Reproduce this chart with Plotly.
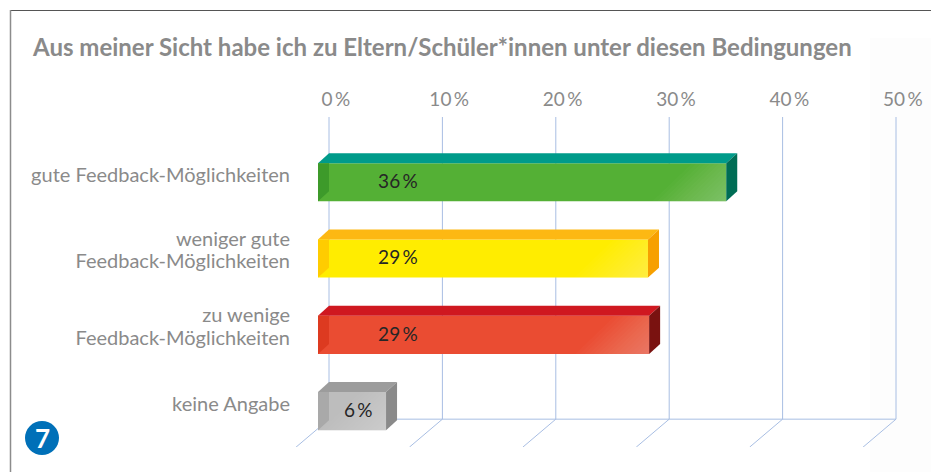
import plotly.graph_objects as go

categories = [["gute Feedback-Möglichkeiten"], ["weniger gute", "Feedback-Möglichkeiten"],
              ["zu wenige", "Feedback-Möglichkeiten"], ["keine Angabe"]]
values = [36, 29.1, 29.2, 6]
value_labels = ["36\u2009%", "29\u2009%", "29\u2009%", "6\u2009%"]
ticks = [0, 10, 20, 30, 40, 50]
title = "Aus meiner Sicht habe ich zu Eltern/Schüler*innen unter diesen Bedingungen"

front = ["#54b035", "#ffed00", "#ea4c32", "#bdbdbd"]
top = ["#009b8a", "#fdb813", "#cf1820", "#9c9c9c"]
side = ["#006d55", "#f7a000", "#7a1210", "#8a8a8a"]
inner = ["#3d9a2a", "#ffcc00", "#dd3a20", "#a9a9a9"]

W, H = 931, 472
PX_PER_X, PX_PER_Y = 11.34, 76.3
X0_PX, Y0_PX = 329, 175          # pixel of x=0 and of the first category
L, R, T, B = 296, 930, 117, 447  # plot box
DX, DY = 0.97, 0.131             # depth of the 3-D bars in axis units
BAR_H = 0.5
OFF = 0.095                      # front face sits slightly below the tick position
LINE_GAP = 0.145                 # half line spacing for two-line labels
LABEL_SHIFT = 0.6                # tick labels sit a little right of their gridlines
WALL_TOP, WALL_BOTTOM = -0.76, 3.2
FLOOR_END = 3.567
XMIN, XMAX = (L - X0_PX) / PX_PER_X, (R - X0_PX) / PX_PER_X
YMIN, YMAX = (T - Y0_PX) / PX_PER_Y, (B - Y0_PX) / PX_PER_Y
ys = list(range(len(values)))
GRID = "#a8bee3"
TXT = "#8a8a8a"

def px(x): return (x - L) / (R - L)
def py(y): return (B - y) / (B - T)

fig = go.Figure()
fig.add_trace(go.Bar(y=[y + OFF for y in ys], x=values, base=-DX, orientation="h", width=BAR_H,
                     marker=dict(color=front, line=dict(width=0)), hoverinfo="skip"))

def poly(xs, yy, color):
    fig.add_trace(go.Scatter(x=xs + xs[:1], y=yy + yy[:1], mode="lines", fill="toself", fillcolor=color,
                             line=dict(width=0, color=color), hoverinfo="skip"))

for i, v in enumerate(values):
    c = i + OFF
    a, b = c - BAR_H / 2, c + BAR_H / 2
    e = v - DX
    poly([-DX, 0, v, e], [a, a - DY, a - DY, a], top[i])
    poly([e, v, v, e], [a, a - DY, b - DY, b], side[i])
    poly([-DX, 0, 0, -DX], [a, a, b - DY, b], inner[i])
    # soft diagonal highlight towards the right end of the front face
    SLANT = 3.5
    for k in range(16):
        w = 0.5 + k * 0.4
        s = e - w
        if s < -DX:
            continue
        if w > SLANT:
            poly([s, e, e, s + SLANT], [b, b, a, a], "rgba(255,255,255,0.018)")
        else:
            poly([s, e, e], [b, b, b - BAR_H * w / SLANT], "rgba(255,255,255,0.018)")

fig.add_trace(go.Scatter(x=[min(6.08, v * 0.43) for v in values], y=[y + OFF + 0.015 for y in ys],
                         mode="text", text=value_labels, textposition="middle center",
                         textfont=dict(family="Lato", size=19, color="#262626"), hoverinfo="skip"))

grid_line = dict(color=GRID, width=1)
shapes = [
    dict(type="rect", xref="paper", yref="paper", x0=px(870), x1=px(931), y0=py(472), y1=py(38),
         fillcolor="#fdfdfd", line_width=0, layer="below"),
    dict(type="line", xref="paper", yref="paper", x0=px(10), x1=px(931), y0=py(10.5), y1=py(10.5),
         line=dict(color="#555555", width=1.2)),
    dict(type="line", xref="paper", yref="paper", x0=px(10.5), x1=px(10.5), y0=py(10), y1=py(472),
         line=dict(color="#8c8c8c", width=1.5)),
    dict(type="circle", xref="paper", yref="paper", x0=px(25), x1=px(59), y0=py(421), y1=py(455),
         fillcolor="#0070b8", line_width=0),
    dict(type="line", xref="x", yref="y", x0=0, x1=50, y0=WALL_BOTTOM, y1=WALL_BOTTOM,
         line=grid_line, layer="below"),
]
for t in ticks:
    shapes.append(dict(type="line", xref="x", yref="y", x0=t, x1=t, y0=WALL_TOP, y1=WALL_BOTTOM,
                       line=grid_line, layer="below"))
    shapes.append(dict(type="line", xref="x", yref="y", x0=t, x1=t - 3 * DX, y0=WALL_BOTTOM, y1=FLOOR_END,
                       line=grid_line, layer="below"))

tick_y, tick_t = [], []
for y, lines in zip(ys, categories):
    n = len(lines)
    for j, text in enumerate(lines):
        tick_y.append(y + (2 * j - n + 1) * LINE_GAP - (0.015 if n > 1 else 0))
        tick_t.append(text)

fig.update_layout(
    width=W, height=H, margin=dict(l=L, r=W - R, t=T, b=H - B, pad=0, autoexpand=False),
    paper_bgcolor="white", plot_bgcolor="rgba(0,0,0,0)", showlegend=False, shapes=shapes,
    title=dict(text="<b>" + title + "</b>", x=33 / W, xref="container", xanchor="left",
               y=1 - 48 / H, yanchor="middle", font=dict(family="Lato", size=24, color=TXT)),
    annotations=[dict(text="<b>7</b>", xref="paper", yref="paper", x=px(42), y=py(438), showarrow=False,
                      xanchor="center", yanchor="middle",
                      font=dict(family="Lato", size=26, color="white"))],
    xaxis=dict(side="top", range=[XMIN, XMAX], tickvals=[t + LABEL_SHIFT for t in ticks],
               ticktext=[f"{t}\u2009%" for t in ticks],
               showgrid=False, zeroline=False, showline=False, ticks="",
               ticklabelstandoff=6, tickfont=dict(family="Lato", size=19, color=TXT)),
    yaxis=dict(range=[YMAX, YMIN], tickvals=tick_y, ticktext=tick_t, showgrid=False, zeroline=False,
               showline=False, ticks="", ticklabelstandoff=5,
               tickfont=dict(family="Lato", size=20, color=TXT)),
)
fig.write_html("out.html", config=dict(displayModeBar=False),
               post_script="document.body.style.margin='0';document.body.style.overflow='hidden';")
